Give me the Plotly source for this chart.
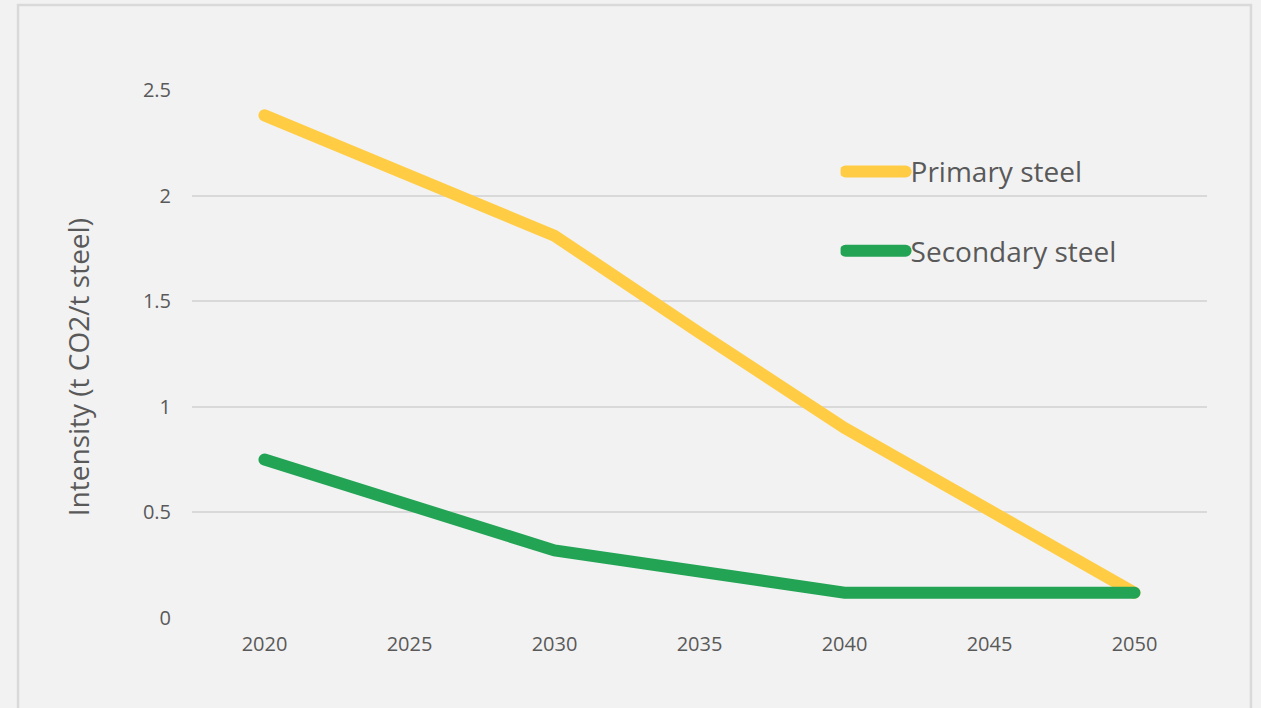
import plotly.graph_objects as go

years = [2020, 2025, 2030, 2035, 2040, 2045, 2050]
primary = [2.38, 2.09, 1.81, 1.35, 0.90, 0.51, 0.12]
secondary = [0.75, 0.54, 0.32, 0.22, 0.12, 0.12, 0.12]
y_ticks = [0, 0.5, 1, 1.5, 2, 2.5]
y_tick_text = ["0", "0.5", "1", "1.5", "2", "2.5"]

YELLOW = "#FFCC44"
GREEN = "#23A455"
TXT = "#595959"
GRID = "#D9D9D9"
FONT = "'Open Sans', Lato, sans-serif"

fig = go.Figure()
fig.add_trace(go.Scatter(x=years, y=primary, mode="lines", name="Primary steel",
                         line=dict(color=YELLOW, width=12), legend="legend", cliponaxis=False))
fig.add_trace(go.Scatter(x=years, y=secondary, mode="lines", name="Secondary steel",
                         line=dict(color=GREEN, width=12), legend="legend2", cliponaxis=False))

fig.update_layout(
    width=1261, height=708,
    margin=dict(l=192, r=54, t=90, b=90),
    paper_bgcolor="#F2F2F2", plot_bgcolor="#F2F2F2",
    font=dict(family=FONT, color=TXT),
    showlegend=True,
    legend=dict(x=0.639, y=0.845, xanchor="left", yanchor="middle", bgcolor="rgba(0,0,0,0)",
                font=dict(size=28, color=TXT), itemwidth=60),
    legend2=dict(x=0.639, y=0.695, xanchor="left", yanchor="middle", bgcolor="rgba(0,0,0,0)",
                 font=dict(size=28, color=TXT), itemwidth=60),
    xaxis=dict(range=[2017.5, 2052.5], tickvals=years, ticktext=[str(y) for y in years],
               showgrid=False, zeroline=False, showline=False, ticks="",
               tickfont=dict(size=20, color=TXT), ticklabelstandoff=12),
    yaxis=dict(range=[0, 2.5], tickvals=y_ticks, ticktext=y_tick_text,
               showgrid=True, gridcolor=GRID, gridwidth=1.5, zeroline=False, showline=False,
               ticks="", tickfont=dict(size=20, color=TXT), ticklabelstandoff=20),
    annotations=[dict(text="Intensity (t CO2/t steel)", xref="paper", yref="paper",
                      x=-0.1123, y=0.475, xanchor="center", yanchor="middle",
                      textangle=-90, showarrow=False,
                      font=dict(size=28, color=TXT, family=FONT))],
    shapes=[dict(type="rect", xref="paper", yref="paper",
                 x0=-0.1714, x1=1.0433, y0=-0.2, y1=1.161,
                 line=dict(color=GRID, width=2.5), fillcolor="rgba(0,0,0,0)", layer="below")],
)

css = """
var s=document.createElement('style');
s.innerHTML='.js-line{stroke-linecap:round !important;} .legendlines path{stroke-width:12px !important;}';
document.head.appendChild(s);
"""
fig.write_html("out.html", post_script=css)
